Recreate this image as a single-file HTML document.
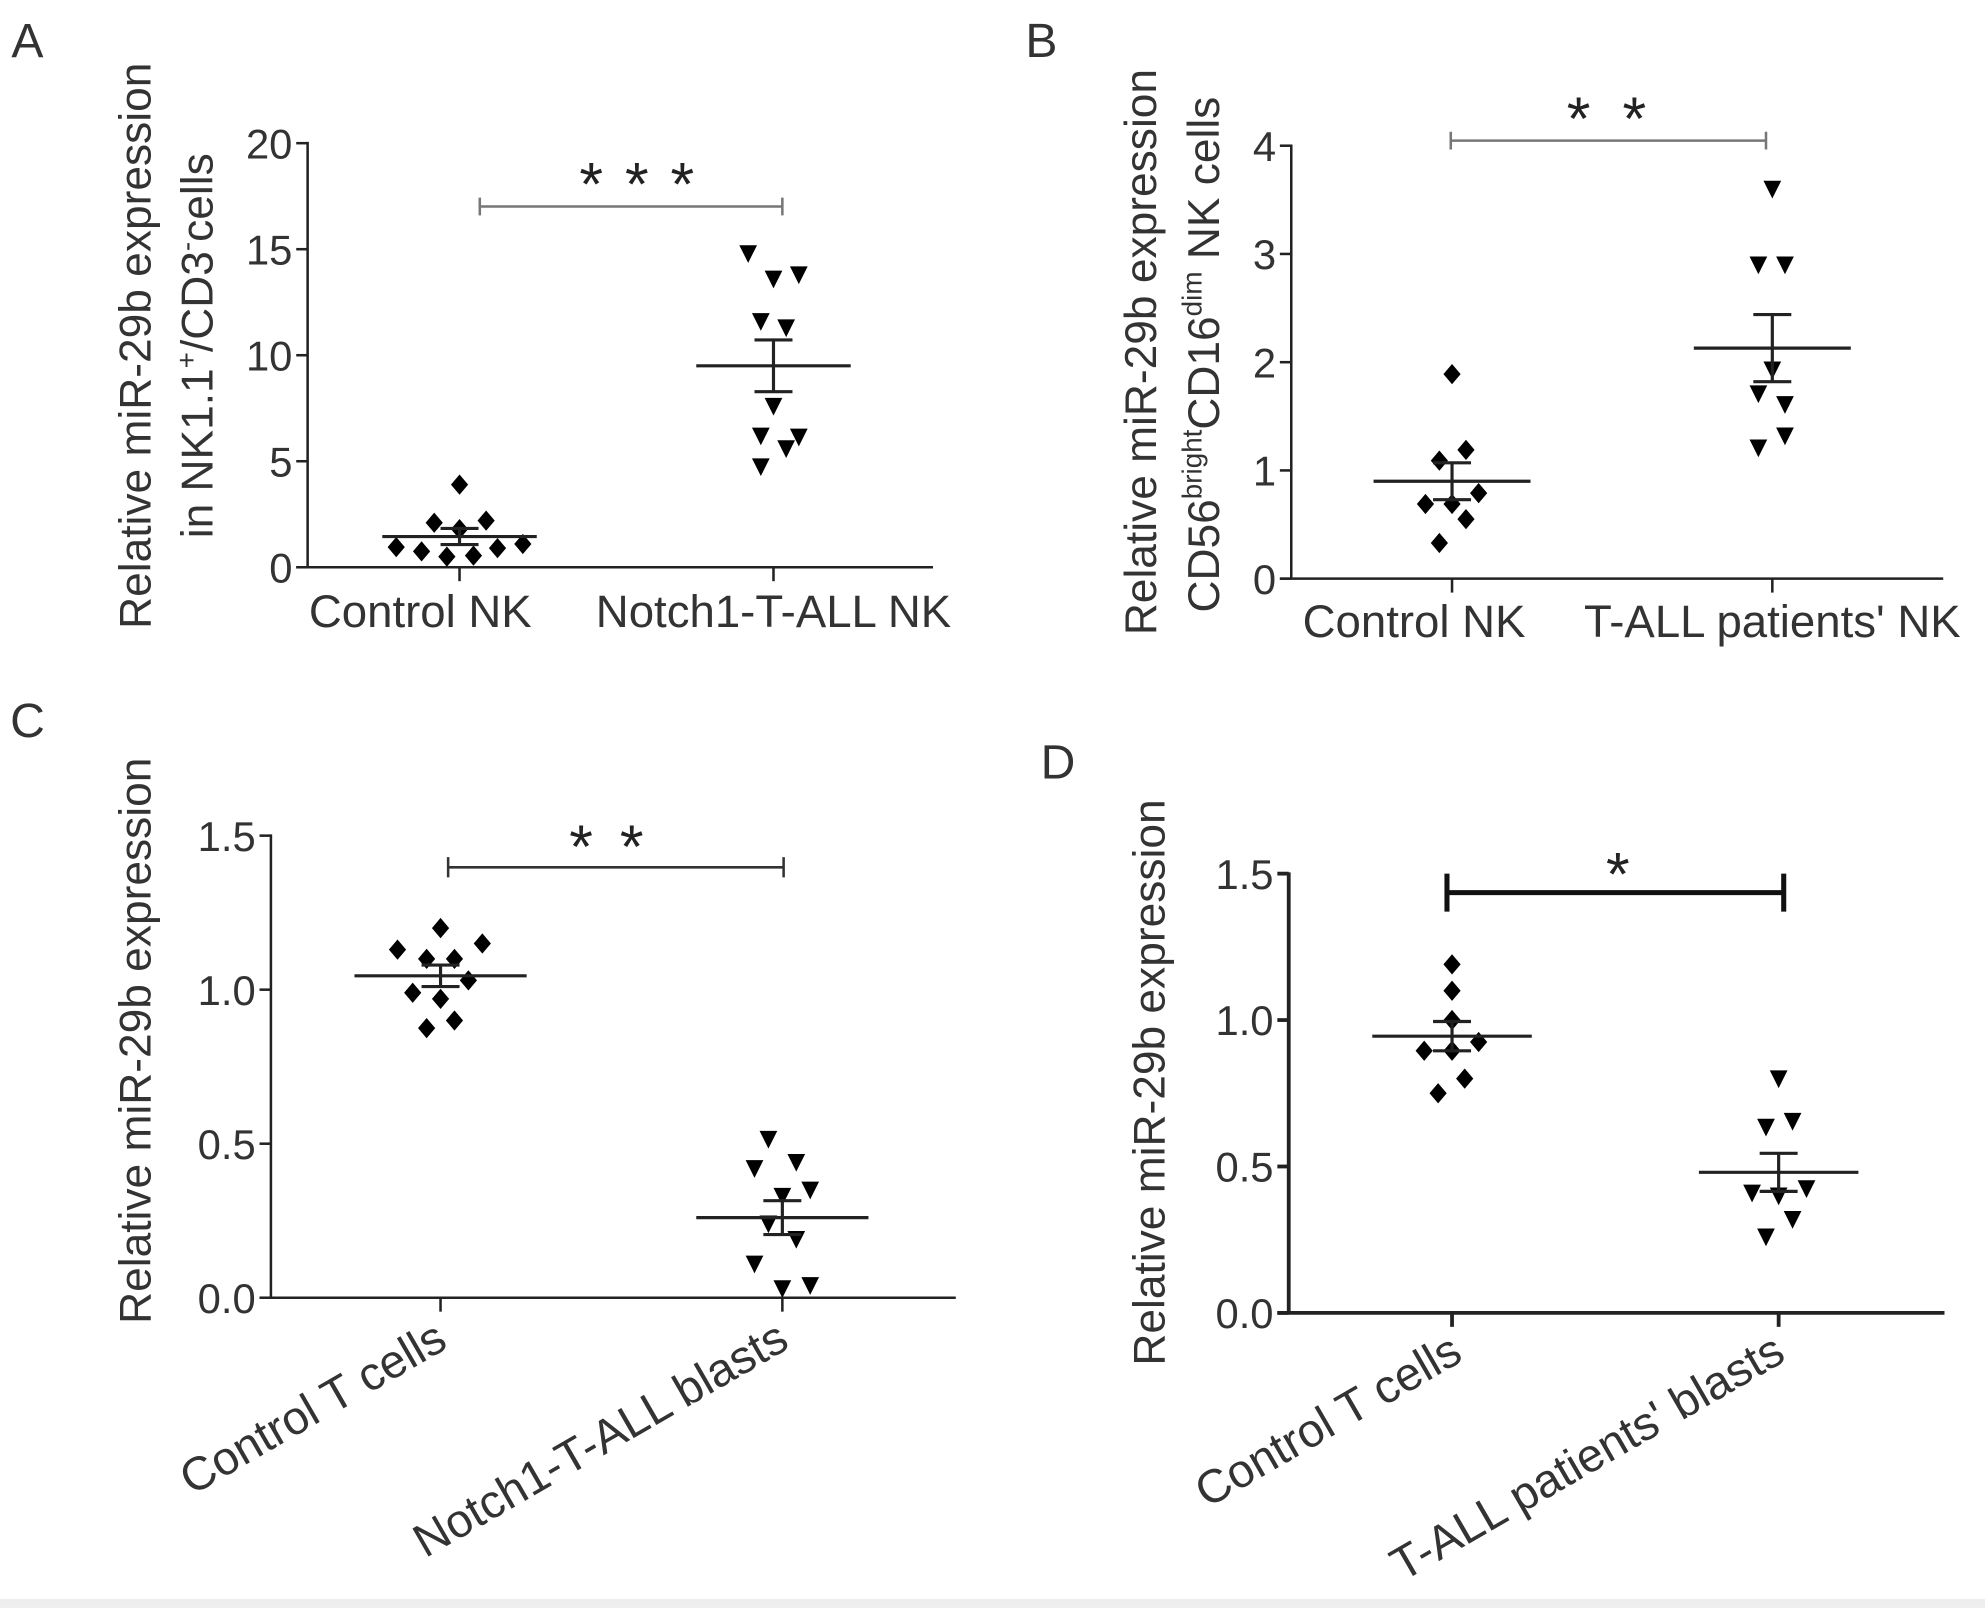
<!DOCTYPE html>
<html><head><meta charset="utf-8"><style>
html,body{margin:0;padding:0;background:#fff;}
svg{display:block;font-family:"Liberation Sans",Arial,sans-serif;}
</style></head><body>
<svg id="fig" width="1985" height="1608" viewBox="0 0 1568 1270" xmlns="http://www.w3.org/2000/svg">
<rect x="0" y="0" width="1568" height="1270" fill="#fff"/>
<rect x="0" y="1263" width="1568" height="7" fill="#eeeeee"/>
</svg>
<script>
// ---------- Data ----------
const catsA = ["Control NK", "Notch1-T-ALL NK"];
const ctrlA = [3.9, 2.1, 2.2, 1.8, 0.95, 0.75, 0.5, 0.55, 0.9, 1.1];
const ctrlAoff = [0, -20, 21, 0, -50, -30, -10, 11, 30, 50];
const grpA = [14.8, 13.6, 13.8, 11.6, 11.3, 7.6, 6.2, 6.15, 5.6, 4.75];
const grpAoff = [-20, 0, 20, -10, 10, 0, -10, 20, 10, -10];
const meanA = [1.45, 9.5];
const semA = [0.38, 1.22];
const ticksA = [0, 5, 10, 15, 20];

const catsB = ["Control NK", "T-ALL patients' NK"];
const ctrlB = [1.89, 1.19, 1.09, 0.79, 0.69, 0.69, 0.55, 0.33];
const ctrlBoff = [0, 11, -10, 21, -21, 0, 11, -10];
const grpB = [3.6, 2.9, 2.9, 1.93, 1.71, 1.61, 1.32, 1.21];
const grpBoff = [0, -11, 10, 0, -11, 10, 10, -11];
const meanB = [0.9, 2.13];
const semB = [0.17, 0.31];
const ticksB = [0, 1, 2, 3, 4];

const catsC = ["Control T cells", "Notch1-T-ALL blasts"];
const ctrlC = [1.2, 1.13, 1.15, 1.10, 1.10, 1.03, 0.99, 0.97, 0.90, 0.875];
const ctrlCoff = [0, -34, 33, -11, 11, 22, -22, 0, 11, -11];
const grpC = [0.515, 0.42, 0.44, 0.35, 0.33, 0.24, 0.19, 0.11, 0.03, 0.04];
const grpCoff = [-11, -22, 11, 22, 0, -11, 11, -22, 0, 22];
const meanC = [1.045, 0.26];
const semC = [0.035, 0.055];
const ticksC = [0, 0.5, 1.0, 1.5];

const catsD = ["Control T cells", "T-ALL patients' blasts"];
const ctrlD = [1.19, 1.10, 1.0, 0.925, 0.895, 0.895, 0.80, 0.75];
const ctrlDoff = [0, 0, 0, 21, -22, 0, 10, -11];
const grpD = [0.80, 0.635, 0.655, 0.41, 0.40, 0.425, 0.32, 0.26];
const grpDoff = [0, -10, 11, -21, 0, 22, 11, -10];
const meanD = [0.945, 0.48];
const semD = [0.05, 0.065];
const ticksD = [0, 0.5, 1.0, 1.5];

// ---------- Drawing ----------
const NS = "http://www.w3.org/2000/svg";
const svg = document.getElementById("fig");
function mk(tag, attrs, parent) {
  const e = document.createElementNS(NS, tag);
  for (const k in attrs) e.setAttribute(k, attrs[k]);
  (parent || svg).appendChild(e);
  return e;
}
function txt(str, attrs, parent) {
  const t = mk("text", attrs, parent);
  t.textContent = str;
  return t;
}

function panel(cfg) {
  const g = mk("g", {});
  
  
  const yScale = v => cfg.y0 - (v - cfg.vmin) / (cfg.vmax - cfg.vmin) * (cfg.y0 - cfg.y1);
  const lw = cfg.axisW;
  const ya = mk("line", {x1: cfg.ax, y1: yScale(cfg.vmax) - 1, x2: cfg.ax, y2: cfg.y0, stroke: "#222", "stroke-width": lw}, g);
  
  
  const xa = mk("line", {x1: cfg.ax - 9, y1: cfg.y0, x2: cfg.axEnd, y2: cfg.y0, stroke: "#222", "stroke-width": lw}, g);
  
  
  cfg.ticks.forEach(t => {
    const y = yScale(t);
    mk("line", {x1: cfg.ax - 9, y1: y, x2: cfg.ax, y2: y, stroke: "#222", "stroke-width": lw}, g);
    const lab = txt(cfg.fmt(t), {x: cfg.ax - 12, y: y + 12, "text-anchor": "end", "font-size": 33, fill: "#333"}, g);
    
    
  });
  cfg.catX.forEach(cx => {
    mk("line", {x1: cx, y1: cfg.y0, x2: cx, y2: cfg.y0 + 11, stroke: "#222", "stroke-width": lw}, g);
  });
  const drawDia = (cx, v) => {
    const y = yScale(v), s = 8;
    const p = mk("polygon", {points: `${cx},${y - s} ${cx + s * 0.85},${y} ${cx},${y + s} ${cx - s * 0.85},${y}`, fill: "#000"}, g);
    
    
  };
  const drawTri = (cx, v) => {
    const y = yScale(v);
    const p = mk("polygon", {points: `${cx - 7},${y - 6.5} ${cx + 7},${y - 6.5} ${cx},${y + 7.5}`, fill: "#000"}, g);
    
    
  };
  cfg.ctrl.forEach((v, i) => drawDia(cfg.catX[0] + cfg.ctrlOff[i], v));
  cfg.grp.forEach((v, i) => drawTri(cfg.catX[1] + cfg.grpOff[i], v));
  cfg.mean.forEach((m, i) => {
    const cx = cfg.catX[i];
    const ym = yScale(m), yt = yScale(m + cfg.sem[i]), yb = yScale(m - cfg.sem[i]);
    const ml = mk("line", {x1: cx - cfg.half, y1: ym, x2: cx + cfg.half, y2: ym, stroke: "#222", "stroke-width": 2.5}, g);
    
    
    const el = mk("path", {d: `M${cx},${yt}V${yb}M${cx - 15},${yt}H${cx + 15}M${cx - 15},${yb}H${cx + 15}`, stroke: "#222", "stroke-width": 2.5, fill: "none"}, g);
    
    
  });
  const sb = cfg.sig;
  const sp = mk("path", {d: `M${sb.x1},${sb.y}H${sb.x2}M${sb.x1},${sb.y - sb.t}V${sb.y + sb.t}M${sb.x2},${sb.y - sb.t}V${sb.y + sb.t}`, stroke: sb.color, "stroke-width": sb.w, fill: "none"}, g);
  
  
  const st = txt(sb.stars, {x: sb.sx, y: sb.sy, "text-anchor": "middle", "font-size": 48, fill: "#222", "letter-spacing": sb.ls}, g);
  
  
  return g;
}

panel({name: "panel-a-chart", vmin: 0, vmax: 20, y0: 448, y1: 113, ax: 243, axEnd: 737, catX: [363, 611], axisW: 2,
  ticks: ticksA, fmt: t => String(t), ctrl: ctrlA, ctrlOff: ctrlAoff, grp: grpA, grpOff: grpAoff, mean: meanA, sem: semA, half: 61,
  sig: {x1: 379, x2: 618, y: 163, t: 7, color: "#777", w: 2, stars: "* * *", sx: 504, sy: 162, ls: 2}});
panel({name: "panel-b-chart", vmin: 0, vmax: 4, y0: 457, y1: 115, ax: 1020, axEnd: 1535, catX: [1147, 1400], axisW: 2,
  ticks: ticksB, fmt: t => String(t), ctrl: ctrlB, ctrlOff: ctrlBoff, grp: grpB, grpOff: grpBoff, mean: meanB, sem: semB, half: 62,
  sig: {x1: 1146, x2: 1395, y: 111, t: 7, color: "#777", w: 2, stars: "*  *", sx: 1272, sy: 110, ls: 6}});
panel({name: "panel-c-chart", vmin: 0, vmax: 1.5, y0: 1025, y1: 660, ax: 214, axEnd: 755, catX: [348, 618], axisW: 2,
  ticks: ticksC, fmt: t => t.toFixed(1), ctrl: ctrlC, ctrlOff: ctrlCoff, grp: grpC, grpOff: grpCoff, mean: meanC, sem: semC, half: 68,
  sig: {x1: 354, x2: 619, y: 685, t: 8, color: "#333", w: 2, stars: "* *", sx: 481, sy: 685, ls: 4}});
panel({name: "panel-d-chart", vmin: 0, vmax: 1.5, y0: 1037, y1: 690, ax: 1018, axEnd: 1536, catX: [1147, 1405], axisW: 3,
  ticks: ticksD, fmt: t => t.toFixed(1), ctrl: ctrlD, ctrlOff: ctrlDoff, grp: grpD, grpOff: grpDoff, mean: meanD, sem: semD, half: 63,
  sig: {x1: 1143, x2: 1409, y: 705, t: 15, color: "#111", w: 4, stars: "*", sx: 1278, sy: 707, ls: 0}});
</script>
<svg style="position:absolute;left:0;top:0" width="1985" height="1608" viewBox="0 0 1568 1270" xmlns="http://www.w3.org/2000/svg" font-family="Liberation Sans, Arial, sans-serif" fill="#333">
  <text x="9" y="45" font-size="38">A</text>
  <text x="810" y="45" font-size="38">B</text>
  <text x="8" y="582" font-size="38">C</text>
  <text x="822" y="615" font-size="38">D</text>

  <text transform="translate(119,273) rotate(-90)" text-anchor="middle" font-size="35">Relative miR-29b expression</text>
  <text transform="translate(168,273) rotate(-90)" text-anchor="middle" font-size="35">in NK1.1<tspan dy="-13" font-size="22">+</tspan><tspan dy="13">/CD3</tspan><tspan dy="-13" font-size="22">-</tspan><tspan dy="13">cells</tspan></text>
  <text x="332" y="495" text-anchor="middle" font-size="36">Control NK</text>
  <text x="611" y="495" text-anchor="middle" font-size="36">Notch1-T-ALL NK</text>

  <text transform="translate(913,278) rotate(-90)" text-anchor="middle" font-size="35">Relative miR-29b expression</text>
  <text transform="translate(963,280) rotate(-90)" text-anchor="middle" font-size="35">CD56<tspan dy="-14" font-size="22">bright</tspan><tspan dy="14">CD16</tspan><tspan dy="-14" font-size="22">dim</tspan><tspan dy="14"> NK cells</tspan></text>
  <text x="1117" y="503" text-anchor="middle" font-size="36">Control NK</text>
  <text x="1400" y="503" text-anchor="middle" font-size="36">T-ALL patients' NK</text>

  <text transform="translate(119,822) rotate(-90)" text-anchor="middle" font-size="35">Relative miR-29b expression</text>
  <text transform="translate(355,1064) rotate(-30)" text-anchor="end" font-size="37">Control T cells</text>
  <text transform="translate(625,1064) rotate(-30)" text-anchor="end" font-size="37">Notch1-T-ALL blasts</text>

  <text transform="translate(920,855) rotate(-90)" text-anchor="middle" font-size="35">Relative miR-29b expression</text>
  <text transform="translate(1157,1074) rotate(-30)" text-anchor="end" font-size="37">Control T cells</text>
  <text transform="translate(1412,1074) rotate(-30)" text-anchor="end" font-size="37">T-ALL patients' blasts</text>
</svg>
</body></html>
